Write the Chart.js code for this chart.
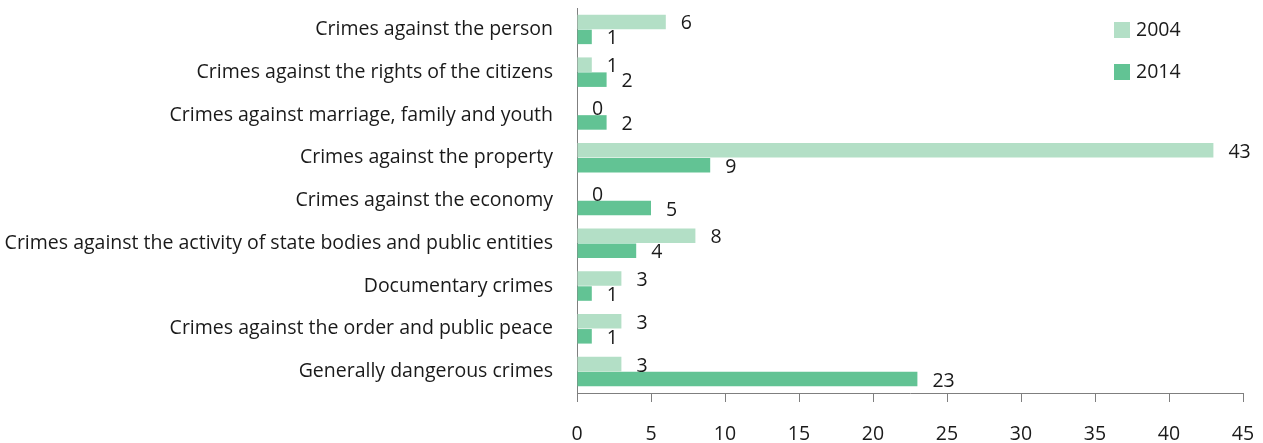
<!DOCTYPE html>
<html>
<head>
<meta charset="utf-8">
<script src="https://cdn.jsdelivr.net/npm/chart.js@4/dist/chart.umd.min.js"></script>
<style>
  body { margin: 0; background: #fff; }
  #wrap { width: 1263px; height: 443px; }
</style>
</head>
<body>
<div id="wrap"><canvas id="myChart"></canvas></div>
<script>
// categories and values
const categories = [
  "Crimes against the person",
  "Crimes against the rights of the citizens",
  "Crimes against marriage, family and youth",
  "Crimes against the property",
  "Crimes against the economy",
  "Crimes against the activity of state bodies and public entities",
  "Documentary crimes",
  "Crimes against the order and public peace",
  "Generally dangerous crimes"
]
const values2004 = [6, 1, 0, 43, 0, 8, 3, 3, 3]
const values2014 = [1, 2, 2, 9, 5, 4, 1, 1, 23]
const xTicks = [0, 5, 10, 15, 20, 25, 30, 35, 40, 45]

const FONT = "Open Sans"
const SIZE = 19.5
const TEXT = "#1a1a1a"
const AXIS = "#7f7f7f"

// numbers to the right of every bar
const barLabels = {
  id: "barLabels",
  afterDatasetsDraw(chart) {
    const ctx = chart.ctx
    ctx.save()
    ctx.font = SIZE + "px " + FONT
    ctx.fillStyle = TEXT
    ctx.textAlign = "left"
    ctx.textBaseline = "middle"
    chart.data.datasets.forEach((ds, i) => {
      chart.getDatasetMeta(i).data.forEach((bar, j) => {
        ctx.fillText(ds.data[j], bar.x + 15, bar.y + 2)
      })
    })
    ctx.restore()
  }
}

// legend drawn up in the top right corner
const cornerLegend = {
  id: "cornerLegend",
  afterDraw(chart) {
    const ctx = chart.ctx
    ctx.save()
    ctx.font = SIZE + "px " + FONT
    ctx.textBaseline = "middle"
    chart.data.datasets.forEach((ds, i) => {
      const y = 30 + i * 42
      ctx.fillStyle = ds.backgroundColor
      ctx.fillRect(1114, y - 8, 16, 16)
      ctx.fillStyle = TEXT
      ctx.fillText(ds.label, 1136, y)
    })
    ctx.restore()
  }
}

new Chart(document.getElementById("myChart"), {
  type: "bar",
  data: {
    labels: categories,
    datasets: [
      { label: "2004", data: values2004, backgroundColor: "#b3dfc6" },
      { label: "2014", data: values2014, backgroundColor: "#62c394" }
    ]
  },
  options: {
    indexAxis: "y",
    responsive: true,
    maintainAspectRatio: false,
    animation: false,
    categoryPercentage: 0.7,
    barPercentage: 0.97,
    layout: { padding: { top: 8, right: 20, left: 0, bottom: 0 } },
    plugins: {
      legend: { display: false },
      tooltip: { enabled: false }
    },
    scales: {
      x: {
        min: 0,
        max: 45,
        afterBuildTicks(scale) { scale.ticks = xTicks.map(v => ({ value: v })) },
        afterFit(scale) {
          scale.height = 50
          scale.paddingLeft = 0
          scale.paddingRight = 0
        },
        border: { color: AXIS, width: 1 },
        grid: { drawOnChartArea: false, drawTicks: true, tickLength: 9, color: AXIS },
        ticks: { color: TEXT, font: { family: FONT, size: SIZE }, padding: 21, maxRotation: 0 }
      },
      y: {
        afterFit(scale) {
          scale.width = 577
          scale.paddingTop = 0
          scale.paddingBottom = 0
        },
        border: { color: AXIS, width: 1 },
        grid: { display: false },
        ticks: { color: TEXT, font: { family: FONT, size: SIZE }, padding: 16, autoSkip: false }
      }
    }
  },
  plugins: [barLabels, cornerLegend]
})
</script>
</body>
</html>
